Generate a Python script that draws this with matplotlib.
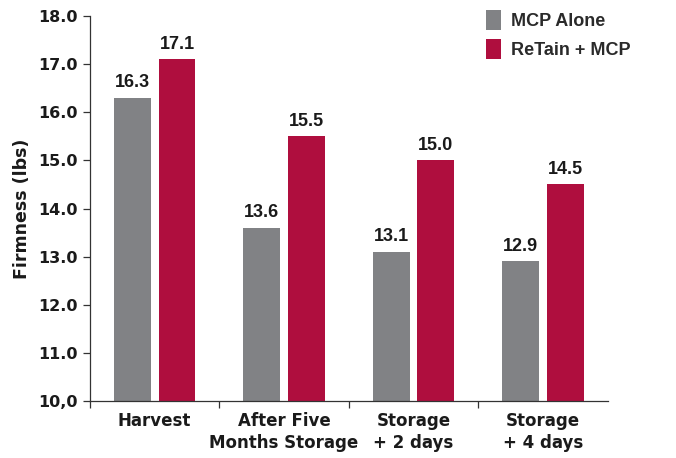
import matplotlib
matplotlib.use("Agg")
import matplotlib.pyplot as plt
import numpy as np

categories = ["Harvest", "After Five\nMonths Storage", "Storage\n+ 2 days", "Storage\n+ 4 days"]
series_names = ["MCP Alone", "ReTain + MCP"]
mcp_alone = [16.3, 13.6, 13.1, 12.9]
retain_mcp = [17.1, 15.5, 15.0, 14.5]
ytick_vals = [10, 11, 12, 13, 14, 15, 16, 17, 18]
ytick_labels = ["10,0", "11.0", "12.0", "13.0", "14.0", "15.0", "16.0", "17.0", "18.0"]

gray = "#818285"
red = "#AF0E3E"
cond = ["DejaVu Sans"]

fig = plt.figure(figsize=(6.76, 4.58), dpi=100)
ax = fig.add_axes([0.133, 0.1245, 0.766, 0.8405])

x = np.arange(len(categories))
w = 0.285
off = 0.173
ax.bar(x - off, [v - 10 for v in mcp_alone], w, bottom=10, color=gray, label=series_names[0])
ax.bar(x + off, [v - 10 for v in retain_mcp], w, bottom=10, color=red, label=series_names[1])

for xs, vals in ((x - off, mcp_alone), (x + off, retain_mcp)):
    for xi, v in zip(xs, vals):
        ax.text(xi, v + 0.14, f"{v:.1f}", ha="center", va="bottom", fontsize=13,
                fontweight="bold", family=["Liberation Sans", "DejaVu Sans"], color="#1a1a1a")

ax.set_xlim(-0.5, 3.5)
ax.set_ylim(10, 18)
ax.set_yticks(ytick_vals)
ax.set_yticklabels(ytick_labels, fontsize=11.5, fontweight="bold", family=cond, color="#1a1a1a")
ax.set_xticks(x)
ax.set_xticklabels(categories, fontsize=12, fontweight="bold", family=cond, color="#1a1a1a", linespacing=1.3)
ax.set_xticks([-0.5, 0.5, 1.5, 2.5], minor=True)
ax.tick_params(axis="x", which="major", length=0, pad=8)
ax.tick_params(axis="x", which="minor", length=5, width=0.9, color="#333333")
ax.tick_params(axis="y", length=5, width=0.9, color="#333333", pad=4)
ax.set_ylabel("Firmness (lbs)", fontsize=12.5, fontweight="bold", family=cond, color="#1a1a1a", labelpad=5)

for s in ("top", "right"):
    ax.spines[s].set_visible(False)
for s in ("left", "bottom"):
    ax.spines[s].set_linewidth(0.9)
    ax.spines[s].set_color("#333333")

leg = ax.legend(loc="upper left", bbox_to_anchor=(0.765, 1.015), frameon=False,
                prop={"family": ["Liberation Sans", "DejaVu Sans"], "weight": "bold", "size": 13},
                handlelength=0.85, handleheight=1.3, handletextpad=0.55, labelspacing=0.5,
                borderaxespad=0, borderpad=0)
for t in leg.get_texts():
    t.set_color("#2a2a2a")

fig.savefig("out.png", dpi=100)
